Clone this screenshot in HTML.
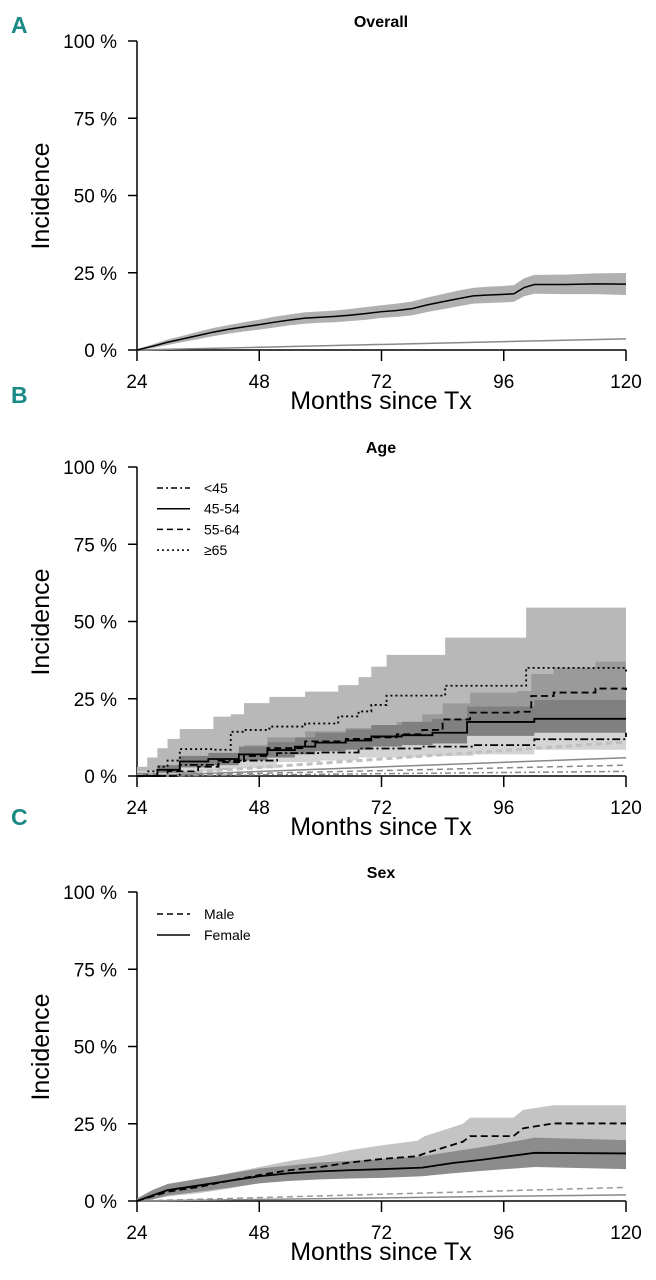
<!DOCTYPE html>
<html><head><meta charset="utf-8"><style>
body{margin:0;background:#fff;}
svg{display:block;font-family:"Liberation Sans",sans-serif;}
.pl{font-family:"Liberation Sans Narrow","Liberation Sans",sans-serif;font-weight:bold;fill:#1a8a86;font-size:23px;}
</style></head><body>
<svg id="fig" width="656" height="1280" viewBox="0 0 656 1280"></svg>
<script>
// ---------- data ----------
const xTicks = [24,48,72,96,120];
const yTicks = [0,25,50,75,100];
const yTickLabels = ["0 %","25 %","50 %","75 %","100 %"];

// Panel A overall
const aMonths = [24,27,30,33,36,39,42,45,48,51,54,57,60,63,66,69,72,75,78,81,84,87,90,93,96,98,100,102,108,114,120];
const aInc    = [0,1.2,2.5,3.6,4.7,5.8,6.7,7.5,8.2,9,9.7,10.3,10.6,10.9,11.3,11.8,12.4,12.8,13.4,14.6,15.6,16.6,17.5,17.8,18,18.2,20.2,21.2,21.2,21.4,21.3];
const aLow    = [0,0.6,1.6,2.6,3.5,4.5,5.3,6,6.6,7.3,8,8.5,8.8,9,9.4,9.8,10.4,10.7,11.2,12.3,13.2,14.1,15,15.2,15.4,15.6,17.4,18.2,18.1,18.1,17.8];
const aUp     = [0.3,1.8,3.4,4.6,5.9,7.1,8.1,9,9.8,10.8,11.5,12.2,12.5,12.8,13.3,13.9,14.5,15,15.7,17,18.1,19.2,20.1,20.5,20.7,21,23.2,24.3,24.4,24.8,24.9];
const aExpM = [24,120], aExpV = [0,3.6];

// Panel B age
const b65M = [24,26,28,30,32.4,39,42.4,45,50,57,63.5,67.5,70,73,84.5,100.4,120];
const b65I = [0,1.5,3,5,8.7,8.5,14.3,14.9,16,17,19.3,20.9,23,26,29.2,35,32.9];
const b65U = [3,6,9,12,15.2,19.2,20,23.6,25.6,27.3,29.4,32,35.4,39.2,44.8,54.5,53];
const b65L = [0,0,0.5,1,2,2,4,5,6,7,8,9,10.5,12,14,18,17];

const b55M = [24,30,36,40,45,49.6,57,65,70,75,80,84,89.4,98.7,101.4,105.8,114,120];
const b55I = [0,1.5,3,4.5,6.5,9,11.2,12,12.5,13.5,14.9,18.3,20.5,20.8,25.9,27,28.3,27.8];
const b55U = [1,3,5.5,7.5,10,12.5,14.5,15.5,16.5,17.5,20,23.5,27,27.5,33,35,37,37];
const b55L = [0,0.5,1.5,2.5,4,6,8,8.5,9,10,11,13.5,15.5,16,20,21,21.5,21];

const b45M = [24,28,32.4,38,44,49.6,55,59,65,70,76,82,88.8,95,102,110,120];
const b45I = [0,2,4.7,5.5,7,8.4,9.5,10.8,11.5,12.8,13.2,14,17.5,17.5,18.5,18.5,18.5];
const b45U = [1,3.5,6.5,7.5,9.5,11,12.5,14,15,16.5,17.5,18.5,22.5,22.5,24.6,24.6,24.6];
const b45L = [0,1,2.8,3.5,5,6,7,8,8.5,9.5,10,10.5,13,13,14,14,14];

const b44M = [24,32.4,40,51.5,60,67.5,80,90,102,120];
const b44I = [0,3.6,5,7.4,7.6,8.9,9.5,10,11.9,14];
const b44U = [1.5,6,7.5,10,10.5,12,13,13.5,16,18];
const b44L = [0,1.5,2.5,4.5,5,6,6.5,7,8.5,10.5];

const bExpM = [24,120];
const bExp65 = [0,11], bExp55 = [0,3.5], bExp45 = [0,5.9], bExp44 = [0,1.5];

// Panel C sex
const cMaleM = [24,27,30,36,42,48,54,60,66,72,79,80.5,88,89.4,97.9,99.8,105.7,120];
const cMaleI = [0,1.5,3,4.5,6.5,8.4,10,11,12.5,13.6,14.5,15.4,19.2,21,21,23.5,25.1,25.1];
const cMaleU = [0.8,3,5,7,9,11,13,14.5,16.5,18,19.5,21,25,27,27,29.5,31,31];
const cMaleL = [0,0.5,1.5,2.5,4,5.8,7,8,9,10,10.8,11.5,14.5,16,16,18.5,19.4,19.4];

const cFemM = [24,27,30,36,42,48,54,60,66,72,80,86,92,102.1,120];
const cFemI = [0,1.8,3.5,5,6.5,8,9,9.6,10,10.3,10.8,12.3,13.4,15.6,15.4];
const cFemU = [0.8,3.5,5.5,7.2,8.8,10.5,11.5,12.5,13,13.5,14.5,16,17.5,20.5,19.7];
const cFemL = [0,0.5,1.8,3,4.3,5.7,6.5,7,7.3,7.5,8,9,9.8,11,10.3];
const cExpM = [24,120], cExpMale = [0,4.4], cExpFem = [0,2];

// ---------- drawing ----------
const NS = "http://www.w3.org/2000/svg";
const svg = document.getElementById('fig');
const X0 = 137, X1 = 626;
function xs(m){return X0 + (m-24)/(96)*(X1-X0);}
function mk(tag, attrs, parent){const e=document.createElementNS(NS,tag);for(const k in attrs)e.setAttribute(k,attrs[k]);(parent||svg).appendChild(e);return e;}

function panel(top, title, letter, letterY){
  const g = mk('g',{});
  
  
  const bottom = top + 309;
  const ys = v => bottom - v/100*309;
  const t = mk('text',{x:381,y:top-14,'text-anchor':'middle','font-size':16,'font-weight':'bold'},g);
  t.textContent = title;
  
  
  const L = mk('text',{x:11,y:letterY,class:'pl'},g);
  L.textContent = letter;
  
  
  const ya = mk('line',{x1:X0,y1:top,x2:X0,y2:bottom,stroke:'#000','stroke-width':1.5},g);
  
  
  const xa = mk('line',{x1:X0,y1:bottom,x2:X1,y2:bottom,stroke:'#000','stroke-width':1.5},g);
  
  
  yTicks.forEach((v,i)=>{
    mk('line',{x1:X0-9,y1:ys(v),x2:X0,y2:ys(v),stroke:'#000','stroke-width':1.5},g);
    const tl = mk('text',{x:X0-20,y:ys(v)+7,'text-anchor':'end','font-size':19},g);
    tl.textContent = yTickLabels[i];
    
    
  });
  xTicks.forEach(v=>{
    mk('line',{x1:xs(v),y1:bottom,x2:xs(v),y2:bottom+11,stroke:'#000','stroke-width':1.5},g);
    const tl = mk('text',{x:xs(v),y:bottom+38,'text-anchor':'middle','font-size':19},g);
    tl.textContent = v;
    
    
  });
  const xt = mk('text',{x:381,y:bottom+59,'text-anchor':'middle','font-size':25},g);
  xt.textContent = 'Months since Tx';
  
  
  const yt = mk('text',{x:0,y:0,'text-anchor':'middle','font-size':25,transform:`translate(49,${top+155}) rotate(-90)`},g);
  yt.textContent = 'Incidence';
  
  
  return {g, ys};
}
function pathStr(M,V,ys,step){let d=`M${xs(M[0])},${ys(V[0])}`;for(let i=1;i<M.length;i++){d+= step?` H${xs(M[i])} V${ys(V[i])}`:` L${xs(M[i])},${ys(V[i])}`;}return d;}
function band(p,M,Lo,Up,fill,name,step){
  let d = pathStr(M,Up,p.ys,step);
  if(step){
    d+=` H${X1} V${p.ys(Lo[Lo.length-1])}`;
    for(let i=M.length-1;i>=1;i--)d+=` H${xs(M[i])} V${p.ys(Lo[i-1])}`;
    d+=` H${xs(M[0])} Z`;
  } else {
    for(let i=M.length-1;i>=0;i--)d+=` L${xs(M[i])},${p.ys(Lo[i])}`;
    d+=' Z';
  }
  const e = mk('path',{d,fill,stroke:'none'},p.g);
  
  
}
function line(p,M,V,stroke,dash,w,name,step){
  let d = pathStr(M,V,p.ys,step)+(step?` H${X1}`:'');
  const e = mk('path',{d,fill:'none',stroke,'stroke-width':w,'stroke-dasharray':dash||'none'},p.g);
  
  
}
function sline(p,M,V,stroke,dash,w,name){
  const e = mk('line',{x1:xs(M[0]),y1:p.ys(V[0]),x2:xs(M[1]),y2:p.ys(V[1]),stroke,'stroke-width':w,'stroke-dasharray':dash||'none'},p.g);
  
  
}
function legend(p,items,x,y0,dy){
  items.forEach((it,i)=>{
    const y=y0+i*dy;
    const l = mk('line',{x1:x,y1:y,x2:x+33,y2:y,stroke:'#000','stroke-width':1.5,'stroke-dasharray':it[1]||'none'},p.g);
    
    
    const t = mk('text',{x:x+47,y:y+5,'font-size':14},p.g);
    t.textContent = it[0];
    
    
  });
}

// A
const pA = panel(41,'Overall','A',33);
band(pA,aMonths,aLow,aUp,'#b0b0b0','overall-ci-band',false);
sline(pA,aExpM,aExpV,'#888','',1.5,'overall-expected-line');
line(pA,aMonths,aInc,'#000','',1.5,'overall-incidence-line',false);

// B
const pB = panel(467,'Age','B',403);
band(pB,b65M,b65L,b65U,'#b8b8b8','age65-ci-band',true);
band(pB,b55M,b55L,b55U,'#9a9a9a','age55-ci-band',true);
band(pB,b44M,b44L,b44U,'#d4d4d4','age44-ci-band',true);
band(pB,b45M,b45L,b45U,'#808080','age45-ci-band',true);
sline(pB,bExpM,bExp65,'#c0c0c0','6,4',3,'age65-expected-line');
sline(pB,bExpM,bExp45,'#888','',1.5,'age45-expected-line');
sline(pB,bExpM,bExp55,'#888','6,4',1.5,'age55-expected-line');
sline(pB,bExpM,bExp44,'#888','6,3,2,3',1.5,'age44-expected-line');
line(pB,b65M,b65I,'#000','2,3',1.8,'age65-line',true);
line(pB,b55M,b55I,'#000','7,4',1.8,'age55-line',true);
line(pB,b45M,b45I,'#000','',1.8,'age45-line',true);
line(pB,b44M,b44I,'#000','8,3,2,3',1.8,'age44-line',true);
legend(pB,[['<45','6,3,2,3'],['45-54',''],['55-64','6,4'],['≥65','2,3']],157,488,20.7);

// C
const pC = panel(892,'Sex','C',825);
band(pC,cMaleM,cMaleL,cMaleU,'#c4c4c4','male-ci-band',false);
band(pC,cFemM,cFemL,cFemU,'#8c8c8c','female-ci-band',false);
sline(pC,cExpM,cExpMale,'#999','6,4',1.5,'male-expected-line');
sline(pC,cExpM,cExpFem,'#888','',1.5,'female-expected-line');
line(pC,cMaleM,cMaleI,'#000','7,4',1.8,'male-line',false);
line(pC,cFemM,cFemI,'#000','',1.8,'female-line',false);
legend(pC,[['Male','6,4'],['Female','']],157,914,21);
</script>
</body></html>
